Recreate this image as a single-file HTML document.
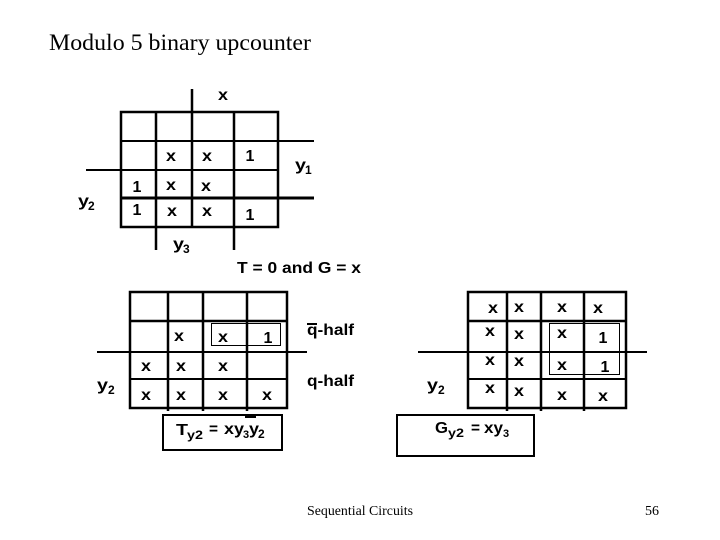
<!DOCTYPE html>
<html><head><meta charset="utf-8"><style>
html,body{margin:0;padding:0;background:#fff}
svg{display:block}
.t{font-family:"Liberation Serif",serif;fill:#000}
.b{font-family:"Liberation Sans",sans-serif;font-weight:bold;fill:#000;font-size:16px}
.g text{text-anchor:middle;font-family:"Liberation Sans",sans-serif;font-weight:bold;font-size:16px;fill:#000}
.k{stroke:#000;stroke-width:3;fill:none}
.n{stroke:#000;stroke-width:1;fill:none}
.m{stroke:#000;stroke-width:2;fill:none}
</style></head><body>
<svg width="720" height="540" viewBox="0 0 720 540" xmlns="http://www.w3.org/2000/svg">
<text class="t" x="49" y="50" font-size="23.5" textLength="262" lengthAdjust="spacingAndGlyphs">Modulo 5 binary upcounter</text>
<text class="t" x="307" y="515" font-size="14" textLength="106" lengthAdjust="spacingAndGlyphs">Sequential Circuits</text>
<text class="t" x="645" y="515" font-size="14">56</text>

<!-- map 1 -->
<g class="k">
<rect x="121" y="112" width="157" height="115" stroke-width="2.500"/>
<path d="M156 112V250M192 89V227M234 112V250" stroke-width="2.500"/>
<path d="M86 170H278M121 141H314" stroke-width="2"/>
<path d="M121 198H314"/>
</g>
<g class="g">
<text x="171" y="161" textLength="10" lengthAdjust="spacingAndGlyphs">x</text>
<text x="207" y="161" textLength="10" lengthAdjust="spacingAndGlyphs">x</text>
<text x="250" y="161">1</text>
<text x="137" y="192">1</text>
<text x="171" y="190" textLength="10" lengthAdjust="spacingAndGlyphs">x</text>
<text x="206" y="191" textLength="10" lengthAdjust="spacingAndGlyphs">x</text>
<text x="137" y="215">1</text>
<text x="172" y="216" textLength="10" lengthAdjust="spacingAndGlyphs">x</text>
<text x="207" y="216" textLength="10" lengthAdjust="spacingAndGlyphs">x</text>
<text x="250" y="220">1</text>
<text x="223" y="100" textLength="10" lengthAdjust="spacingAndGlyphs">x</text>
</g>
<text class="b" x="295" y="170" textLength="11" lengthAdjust="spacingAndGlyphs">y</text><text class="b" x="305" y="174" style="font-size:12px">1</text>
<text class="b" x="78" y="206" textLength="11" lengthAdjust="spacingAndGlyphs">y</text><text class="b" x="88" y="210" style="font-size:12px">2</text>
<text class="b" x="173" y="249" textLength="11" lengthAdjust="spacingAndGlyphs">y</text><text class="b" x="183" y="253" style="font-size:12px">3</text>
<text class="b" x="237" y="273" textLength="124" lengthAdjust="spacingAndGlyphs">T = 0 and G = x</text>

<!-- map 2 -->
<g class="k">
<rect x="130" y="292" width="157" height="116" stroke-width="2.500"/>
<path d="M168 292V411M203 292V411M247 292V411" stroke-width="2.500"/>
<path d="M130 321H287" stroke-width="2.500"/>
<path d="M97 352H307M130 379H287" stroke-width="2"/>
</g>
<rect class="n" x="211.500" y="323.500" width="69" height="22"/>
<rect class="m" x="163" y="415" width="119" height="35"/>
<rect x="245" y="415" width="11" height="3"/>
<g class="g">
<text x="179" y="341" textLength="10" lengthAdjust="spacingAndGlyphs">x</text>
<text x="223" y="342" textLength="10" lengthAdjust="spacingAndGlyphs">x</text>
<text x="268" y="343">1</text>
<text x="146" y="371" textLength="10" lengthAdjust="spacingAndGlyphs">x</text>
<text x="181" y="371" textLength="10" lengthAdjust="spacingAndGlyphs">x</text>
<text x="223" y="371" textLength="10" lengthAdjust="spacingAndGlyphs">x</text>
<text x="146" y="400" textLength="10" lengthAdjust="spacingAndGlyphs">x</text>
<text x="181" y="400" textLength="10" lengthAdjust="spacingAndGlyphs">x</text>
<text x="223" y="400" textLength="10" lengthAdjust="spacingAndGlyphs">x</text>
<text x="267" y="400" textLength="10" lengthAdjust="spacingAndGlyphs">x</text>
</g>
<text class="b" x="97" y="390" textLength="11" lengthAdjust="spacingAndGlyphs">y</text><text class="b" x="108" y="394" style="font-size:12px">2</text>
<text class="b" x="307" y="335" textLength="47" lengthAdjust="spacingAndGlyphs">q-half</text>
<rect x="307" y="323" width="10" height="2"/>
<text class="b" x="307" y="386" textLength="47" lengthAdjust="spacingAndGlyphs">q-half</text>
<text class="b" x="176" y="435" textLength="12" lengthAdjust="spacingAndGlyphs">T</text>
<text class="b" x="187" y="439" textLength="16" lengthAdjust="spacingAndGlyphs" style="font-size:12px">y2</text>
<text class="b" x="209" y="434" textLength="9" lengthAdjust="spacingAndGlyphs">=</text>
<text class="b" x="224" y="434" textLength="20" lengthAdjust="spacingAndGlyphs">xy</text>
<text class="b" x="243" y="438" style="font-size:11px">3</text>
<text class="b" x="249" y="434" textLength="10" lengthAdjust="spacingAndGlyphs">y</text>
<text class="b" x="258" y="438" style="font-size:12px">2</text>

<!-- map 3 -->
<g class="k">
<rect x="468" y="292" width="158" height="116" stroke-width="2.500"/>
<path d="M507 292V411M541 292V411M584 292V411" stroke-width="2.500"/>
<path d="M468 321H626" stroke-width="2.500"/>
<path d="M418 352H647M468 379H626" stroke-width="2"/>
</g>
<rect class="n" x="549.500" y="323.500" width="70" height="51"/>
<rect class="m" x="397" y="415" width="137" height="41"/>
<g class="g">
<text x="493" y="313" textLength="10" lengthAdjust="spacingAndGlyphs">x</text>
<text x="519" y="312" textLength="10" lengthAdjust="spacingAndGlyphs">x</text>
<text x="562" y="312" textLength="10" lengthAdjust="spacingAndGlyphs">x</text>
<text x="598" y="313" textLength="10" lengthAdjust="spacingAndGlyphs">x</text>
<text x="490" y="336" textLength="10" lengthAdjust="spacingAndGlyphs">x</text>
<text x="519" y="339" textLength="10" lengthAdjust="spacingAndGlyphs">x</text>
<text x="562" y="338" textLength="10" lengthAdjust="spacingAndGlyphs">x</text>
<text x="603" y="343">1</text>
<text x="490" y="365" textLength="10" lengthAdjust="spacingAndGlyphs">x</text>
<text x="519" y="366" textLength="10" lengthAdjust="spacingAndGlyphs">x</text>
<text x="562" y="370" textLength="10" lengthAdjust="spacingAndGlyphs">x</text>
<text x="605" y="372">1</text>
<text x="490" y="393" textLength="10" lengthAdjust="spacingAndGlyphs">x</text>
<text x="519" y="396" textLength="10" lengthAdjust="spacingAndGlyphs">x</text>
<text x="562" y="400" textLength="10" lengthAdjust="spacingAndGlyphs">x</text>
<text x="603" y="401" textLength="10" lengthAdjust="spacingAndGlyphs">x</text>
</g>
<text class="b" x="427" y="390" textLength="11" lengthAdjust="spacingAndGlyphs">y</text><text class="b" x="438" y="394" style="font-size:12px">2</text>
<text class="b" x="435" y="433" textLength="13" lengthAdjust="spacingAndGlyphs">G</text>
<text class="b" x="448" y="437" textLength="16" lengthAdjust="spacingAndGlyphs" style="font-size:12px">y2</text>
<text class="b" x="471" y="433" textLength="9" lengthAdjust="spacingAndGlyphs">=</text>
<text class="b" x="484" y="433" textLength="19" lengthAdjust="spacingAndGlyphs">xy</text>
<text class="b" x="503" y="437" style="font-size:11px">3</text>
</svg>
</body></html>
